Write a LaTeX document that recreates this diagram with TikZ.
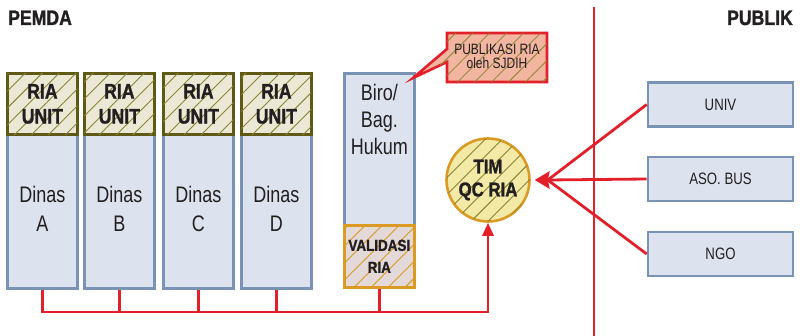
\documentclass[tikz,border=0pt]{standalone}
\usepackage{fontspec}
\setmainfont{Liberation Sans}[FakeStretch=0.8]
\newfontfamily\condb{Liberation Sans}[FakeStretch=0.84,FakeBold=1.3]
\usetikzlibrary{patterns.meta,arrows.meta,calc}
\definecolor{boxfill}{HTML}{DCE3EE}
\definecolor{boxdraw}{HTML}{7A93B5}
\definecolor{unitfill}{HTML}{ECE8D6}
\definecolor{unitdraw}{HTML}{5E5914}
\definecolor{olivehatch}{HTML}{8A8433}
\definecolor{validfill}{HTML}{E2D9D8}
\definecolor{orangedraw}{HTML}{DB9A22}
\definecolor{circfill}{HTML}{F3EAA8}
\definecolor{callfill}{HTML}{F2B5A0}
\definecolor{myred}{HTML}{E3202A}
\definecolor{txt}{HTML}{231F20}
\begin{document}
\begin{tikzpicture}[x=1pt,y=-1pt,
  every node/.style={text=txt},
  bodybox/.style={draw=boxdraw,fill=boxfill,line width=2.6pt,inner sep=0pt,anchor=north west,align=center},
  unitbox/.style={draw=unitdraw,fill=unitfill,line width=2.8pt,inner sep=0pt,anchor=north west,
     minimum width=70pt,minimum height=61pt,font=\condb\bfseries\fontsize{21}{25}\selectfont,align=center,
     postaction={pattern={Lines[angle=45,distance=12pt,line width=0.9pt]},pattern color=olivehatch}},
  pubbox/.style={draw=boxdraw,fill=boxfill,line width=2.6pt,inner sep=0pt,
     minimum width=145pt,minimum height=44pt,font=\fontsize{16.5}{18}\selectfont},
  redline/.style={draw=myred,line width=2.8pt},
  title/.style={font=\condb\bfseries\fontsize{21}{22}\selectfont,inner sep=0pt}
]
\useasboundingbox (0,0) rectangle (800,336);

% titles
\node[title,anchor=base west] (pemda) at (8,25) {PEMDA};
\node[title,anchor=base east] (publik) at (793,25) {PUBLIK};

% divider
\coordinate (divtop) at (594,7);
\coordinate (divbot) at (594,336);
\draw[redline] (divtop) -- (divbot);

% dinas columns
\foreach \n/\xa/\l in {A/6/A,B/83/B,C/162/C,D/240/D}{
  \node[bodybox,minimum width=70pt,minimum height=154pt] (body\n) at (\xa,133) {};
  \node[font=\fontsize{22.5}{29}\selectfont,align=center] (lab\n) at ($(body\n.center)+(0,-2)$) {Dinas\\\l};
  \node[unitbox] (unit\n) at (\xa,72) {RIA\\UNIT};
}

% Biro
\node[bodybox,minimum width=70pt,minimum height=214pt] (biro) at (343,72) {};
\node[font=\fontsize{22.5}{27}\selectfont,align=center,anchor=north] (birolab) at ($(biro.north)+(0,9)$) {Biro/\\Bag.\\Hukum};
\node[draw=orangedraw,fill=validfill,line width=2.6pt,inner sep=0pt,anchor=north west,
      minimum width=70pt,minimum height=62pt,font=\condb\bfseries\fontsize{16}{22}\selectfont,align=center,
      postaction={pattern={Lines[angle=45,distance=12pt,line width=0.9pt]},pattern color=orangedraw}]
      (valid) at (343,224) {VALIDASI\\RIA};

% callout
\coordinate (calltip) at (413,78);
\filldraw[draw=myred,fill=callfill,line width=2.6pt,line join=miter,
   postaction={pattern={Lines[angle=45,distance=12pt,line width=0.8pt]},pattern color=olivehatch}]
   (447,33) -- (547,33) -- (547,82) -- (447,82) -- (447,62) -- (calltip) -- (447,49) -- cycle;
\node[font=\fontsize{15}{14}\selectfont,align=center] (calltext) at (497,56) {PUBLIKASI RIA\\oleh SJDIH};

% QC circle
\node[circle,draw=orangedraw,fill=circfill,line width=2.6pt,minimum size=83pt,inner sep=0pt,
      font=\condb\bfseries\fontsize{20}{23}\selectfont,align=center,
      postaction={pattern={Lines[angle=45,distance=12pt,line width=0.9pt]},pattern color=olivehatch}]
      (qc) at (488,180) {TIM\\QC RIA};

% public boxes
\node[pubbox] (univ) at (720.5,104.5) {UNIV};
\node[pubbox] (aso) at (720.5,179) {ASO. BUS};
\node[pubbox] (ngo) at (720.5,254) {NGO};

% bus at the bottom
\coordinate (bus) at (41,312);
\foreach \n in {A,B,C,D}{
  \draw[redline] (body\n.south) -- (body\n.south |- bus);
}
\draw[redline] (valid.south) -- (valid.south |- bus);
\draw[redline,-{Triangle[length=13pt,width=11pt]}] (bus) -| (qc.south);

% converging arrow
\coordinate (tip) at ($(qc.east)+(4,0)$);
\coordinate (tipback) at ($(tip)+(13,0)$);
\draw[redline] (univ.west) -- (tipback);
\draw[redline] (aso.west) -- (tipback);
\draw[redline] (ngo.west) -- (tipback);
\fill[myred] (tip) -- ++(15,-9) -- ++(-2,9) -- ++(2,9) -- cycle;
\end{tikzpicture}
\end{document}
